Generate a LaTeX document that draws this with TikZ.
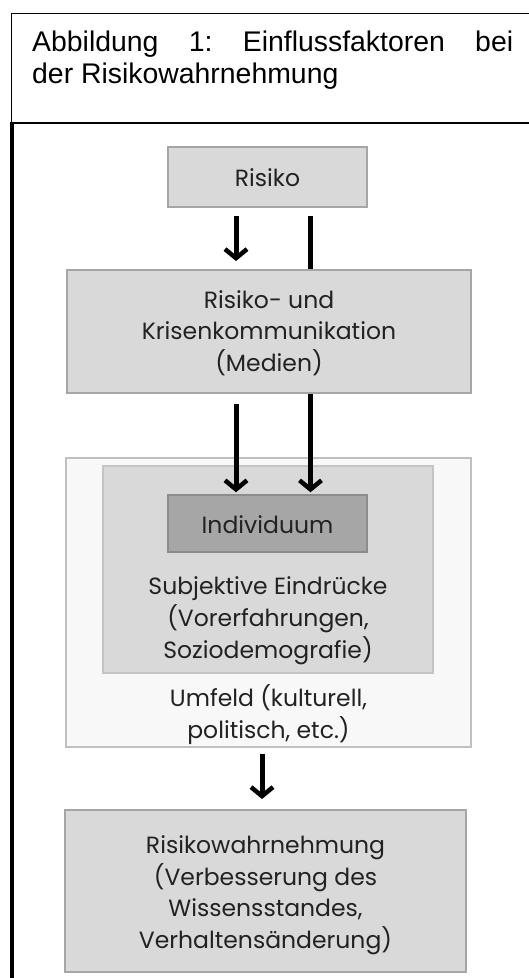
\documentclass[tikz,border=0pt]{standalone}
\usepackage{fontspec}
\setmainfont{Poppins}
\newfontfamily\titlefont{Liberation Sans}
\usetikzlibrary{arrows.meta}
\definecolor{boxfill}{HTML}{D9D9D9}
\definecolor{boxline}{HTML}{A6A6A6}
\definecolor{indfill}{HTML}{A6A6A6}
\definecolor{indline}{HTML}{8C8C8C}
\definecolor{envfill}{HTML}{F8F8F8}
\definecolor{envline}{HTML}{C0C0C0}
\definecolor{subline}{HTML}{C4C4C4}
\definecolor{txt}{HTML}{222222}
\tikzset{
  box/.style={draw=boxline, fill=boxfill, line width=2pt, inner sep=0pt},
  boxtext/.style={text=txt, align=center, anchor=base, font=\fontsize{23.5}{31.5}\selectfont, inner sep=0pt},
  titletext/.style={anchor=base west, inner sep=0pt, font=\titlefont\fontsize{28.4}{32}\selectfont},
  conn/.style={line width=5pt, black},
  arr/.style={conn, -{Straight Barb[length=9pt, width=22pt, line width=4.5pt]}},
}
\frenchspacing
\begin{document}
\begin{tikzpicture}[x=1pt,y=-1pt]
\useasboundingbox (0,0) rectangle (529,978);
% title frame
\draw[line width=1.3pt] (11.7,123) -- (11.7,13.5) -- (540,13.5);
\draw[line width=2pt] (10.5,123) -- (540,123);
\draw[line width=4pt] (11.5,122) -- (11.5,985);
\node[titletext] (t1) at (32,51)
  {\frenchspacing\makebox[481pt][s]{Abbildung 1: Einflussfaktoren bei}};
\node[titletext] (t2) at (32,83) {der Risikowahrnehmung};
% boxes
\node[box, minimum width=199pt, minimum height=60pt] (risiko) at (267.5,177) {};
\node[boxtext] (risikot) at (267.5,186) {Risiko};
\node[box, minimum width=404pt, minimum height=123pt] (komm) at (269,331.5) {};
\node[boxtext] (kommt) at (269,371) {Risiko- und\\Krisenkommunikation\\(Medien)};
\node[draw=envline, fill=envfill, line width=1.5pt, minimum width=405pt, minimum height=289pt, inner sep=0pt] (umfeld) at (268.5,602.5) {};
\node[draw=subline, fill=boxfill, line width=1.5pt, minimum width=330pt, minimum height=207pt, inner sep=0pt] (subj) at (268,569.5) {};
\node[draw=indline, fill=indfill, line width=1.5pt, minimum width=199pt, minimum height=57pt, inner sep=0pt] (ind) at (267.5,523.5) {};
\node[boxtext] (indt) at (267.5,533) {Individuum};
\node[boxtext, font=\fontsize{23.5}{32}\selectfont] (subjt) at (268,658) {Subjektive Eindrücke\\(Vorerfahrungen,\\Soziodemografie)};
\node[boxtext] (umfeldt) at (268.5,738) {Umfeld (kulturell,\\politisch, etc.)};
\node[box, minimum width=401pt, minimum height=162pt] (wahr) at (265.5,891) {};
\node[boxtext] (wahrt) at (265.5,948) {Risikowahrnehmung\\(Verbesserung des\\Wissensstandes,\\Verhaltensänderung)};
% connectors
\coordinate (xl) at (236,0);
\coordinate (xr) at (310.5,0);
\coordinate (xb) at (262,0);
\draw[arr, shorten <=8pt, shorten >=8pt] (risiko.south -| xl) -- (komm.north -| xl);
\draw[conn, shorten <=8pt] (risiko.south -| xr) -- (komm.north -| xr);
\draw[arr, shorten <=10pt, shorten >=2pt] (komm.south -| xl) -- (ind.north -| xl);
\draw[arr, shorten >=2pt] (komm.south -| xr) -- (ind.north -| xr);
\draw[arr, shorten <=6pt, shorten >=10pt] (umfeld.south -| xb) -- (wahr.north -| xb);
\end{tikzpicture}
\end{document}
